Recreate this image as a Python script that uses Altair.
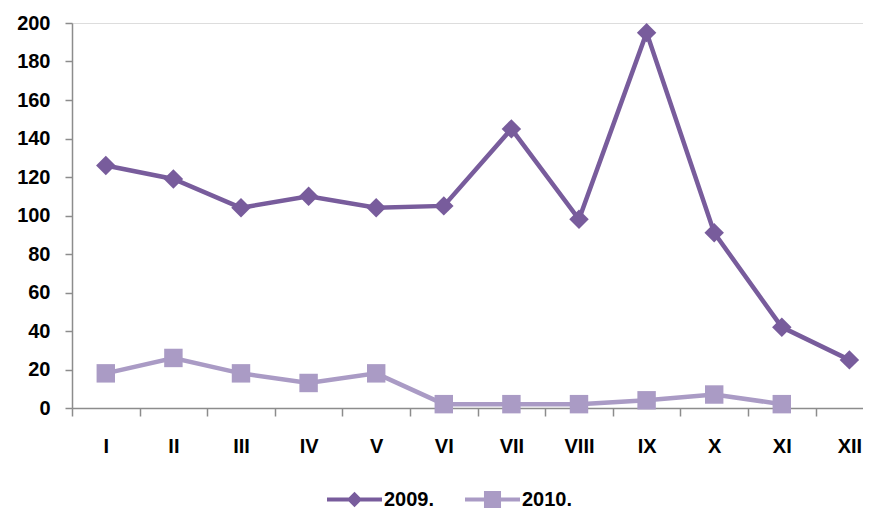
import altair as alt
import pandas as pd

months = ["I", "II", "III", "IV", "V", "VI", "VII", "VIII", "IX", "X", "XI", "XII"]
s2009 = [126, 119, 104, 110, 104, 105, 145, 98, 195, 91, 42, 25]
s2010 = [18, 26, 18, 13, 18, 2, 2, 2, 4, 7, 2, None]
series = ["2009.", "2010."]
colors = ["#785C9C", "#AA9BC5"]

rows = []
for m, a, b in zip(months, s2009, s2010):
    rows.append({"month": m, "series": series[0], "value": a})
    if b is not None:
        rows.append({"month": m, "series": series[1], "value": b})
df = pd.DataFrame(rows)

FONT = "Liberation Sans"
W_STEP = 67.6

xenc = alt.X(
    "month:N",
    sort=months,
    bandPosition=0.5,
    scale=alt.Scale(type="band", domain=months, range=[0, W_STEP * 12], paddingInner=0, paddingOuter=0),
    axis=alt.Axis(
        title=None, tickBand="extent", labelAngle=0, labelFont=FONT, labelFontSize=20,
        labelFontWeight="bold", labelColor="#000000", labelPadding=20, tickSize=8,
        domainColor="#8c8c8c", tickColor="#8c8c8c", domainWidth=1.5, tickWidth=1.5, grid=False,
    ),
)
yenc = alt.Y(
    "value:Q",
    scale=alt.Scale(domain=[0, 200], nice=False, zero=True),
    axis=alt.Axis(
        title=None, values=list(range(0, 201, 20)), labelFont=FONT, labelFontSize=20,
        labelFontWeight="bold", labelColor="#000000", labelPadding=15, tickSize=7,
        domainColor="#8c8c8c", tickColor="#8c8c8c", domainWidth=1.5, tickWidth=1.5, grid=False,
    ),
)

# legend symbols: line segment with marker (filled closed sub-paths)
diamond_leg = "M-1,-0.075H1V0.075H-1Z M0,-0.28L0.28,0L0,0.28L-0.28,0Z"
square_leg = "M-1,-0.075H1V0.075H-1Z M-0.31,-0.31H0.31V0.31H-0.31Z"


def legend_for(x, path):
    return alt.Legend(
        orient="none", legendX=x, legendY=449, title=None,
        symbolType=path, symbolSize=3025, symbolStrokeWidth=0,
        labelFont=FONT, labelFontSize=20, labelFontWeight="bold",
        labelColor="#000000", labelOffset=2, padding=0,
    )


base = alt.Chart(df)

lines = base.mark_line(strokeWidth=4.5).encode(
    x=xenc, y=yenc,
    color=alt.Color("series:N", scale=alt.Scale(domain=series, range=colors), legend=None),
)

pts09 = base.transform_filter(alt.datum.series == series[0]).mark_point(
    filled=True, shape="diamond", size=380, color=colors[0]
).encode(
    x=xenc, y=yenc,
    opacity=alt.Opacity("series:N", scale=alt.Scale(domain=[series[0]], range=[1, 1]),
                        legend=legend_for(255, diamond_leg)),
)

pts10 = base.transform_filter(alt.datum.series == series[1]).mark_point(
    filled=True, shape="square", size=340, opacity=1
).encode(
    x=xenc, y=yenc,
    fill=alt.Fill("series:N", scale=alt.Scale(domain=[series[1]], range=[colors[1]]),
                  legend=legend_for(393, square_leg)),
)

chart = (
    alt.layer(lines, pts09, pts10)
    .resolve_scale(opacity="independent", fill="independent")
    .properties(
        width=791,
        height=385,
        autosize=alt.AutoSizeParams(type="none"),
        padding={"left": 64, "top": 15, "right": 0, "bottom": 102},
    )
    .configure_view(stroke=None)
    .configure(background="#ffffff")
)

chart.save("out.html", embed_options={"renderer": "svg", "actions": False})
